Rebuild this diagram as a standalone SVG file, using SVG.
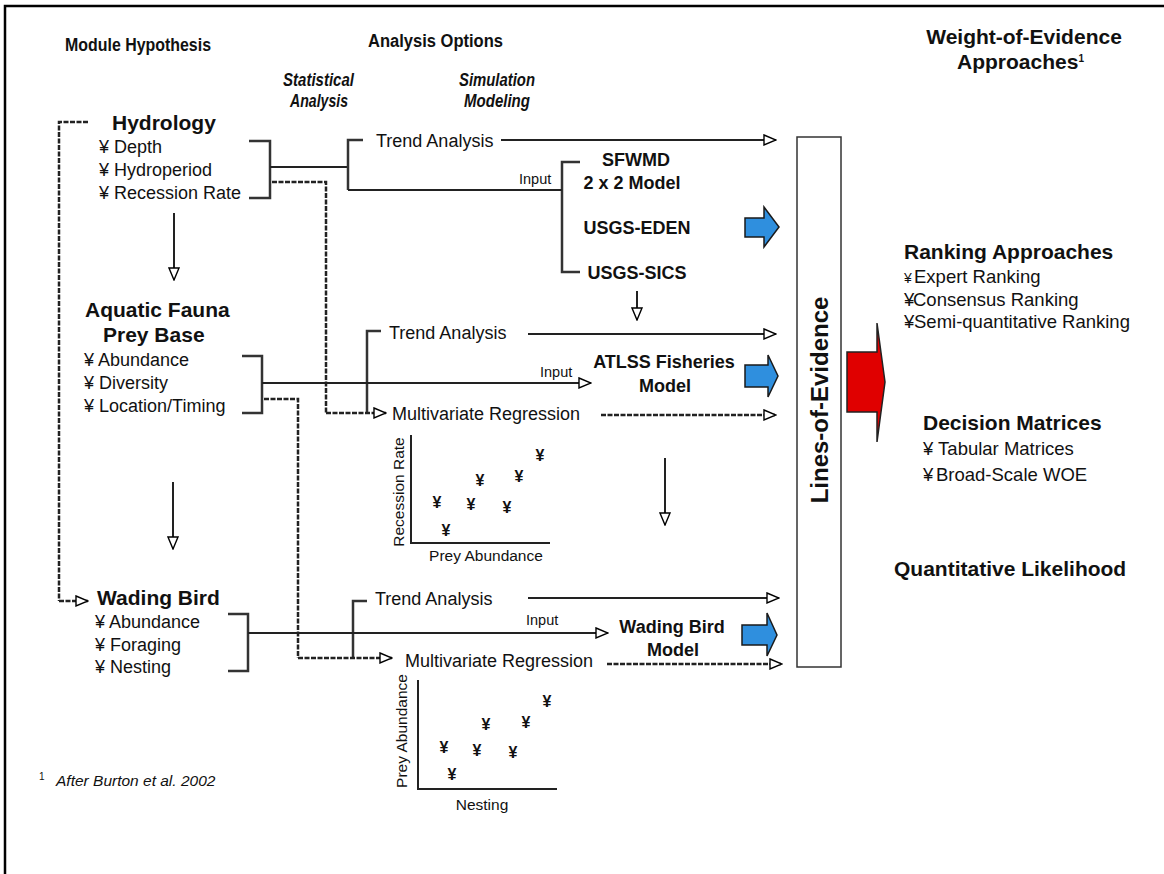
<svg xmlns="http://www.w3.org/2000/svg" width="1164" height="874" viewBox="0 0 1164 874">
<style>
text{font-family:"Liberation Sans",Arial,sans-serif;fill:#111}
.h{font-weight:bold;font-size:18px}
.hi{font-weight:bold;font-style:italic;font-size:18px}
.node{font-weight:bold;font-size:21px}
.li{font-size:18px}
.m{font-weight:bold;font-size:18px}
.sm{font-size:14.5px}
.ax{font-size:15.5px}
.yen{font-weight:bold;font-size:16px;text-anchor:middle}
.r{font-size:18.5px}
.s{fill:none;stroke:#222;stroke-width:2}
.b{fill:none;stroke:#333;stroke-width:2.5}
.d{fill:none;stroke:#222;stroke-width:2.5;stroke-dasharray:5 1.5}
.a{marker-end:url(#hollow)}
.blue{fill:#2f8fde;stroke:#1a1a1a;stroke-width:1.5}
</style>
<defs>
<marker id="hollow" viewBox="0 0 14 12" refX="13" refY="6" markerWidth="14" markerHeight="12" markerUnits="userSpaceOnUse" orient="auto">
<path d="M1,1 L13,6 L1,11 Z" fill="#fff" stroke="#000" stroke-width="1.4"/>
</marker>
</defs>
<rect width="1164" height="874" fill="#fff"/>
<path d="M5,874 V6 H1164" fill="none" stroke="#000" stroke-width="2.5"/>

<g id="headers">
<text class="h" x="65" y="51" textLength="146" lengthAdjust="spacingAndGlyphs">Module Hypothesis</text>
<text class="h" x="368" y="47" textLength="135" lengthAdjust="spacingAndGlyphs">Analysis Options</text>
<text class="hi" x="283" y="86" textLength="71" lengthAdjust="spacingAndGlyphs">Statistical</text>
<text class="hi" x="290" y="107" textLength="58" lengthAdjust="spacingAndGlyphs">Analysis</text>
<text class="hi" x="459" y="86" textLength="76" lengthAdjust="spacingAndGlyphs">Simulation</text>
<text class="hi" x="464" y="107" textLength="66" lengthAdjust="spacingAndGlyphs">Modeling</text>
<text class="node" x="1024" y="44" text-anchor="middle">Weight-of-Evidence</text>
<text class="node" x="957" y="69">Approaches<tspan font-size="10" dy="-7">1</tspan></text>
</g>

<g id="hydrology">
<text class="node" x="112" y="130">Hydrology</text>
<text class="li" x="99" y="153">¥ Depth</text>
<text class="li" x="99" y="176">¥ Hydroperiod</text>
<text class="li" x="99" y="199">¥ Recession Rate</text>
</g>
<g id="aquatic-fauna">
<text class="node" x="85" y="317">Aquatic Fauna</text>
<text class="node" x="103" y="342">Prey Base</text>
<text class="li" x="84" y="366">¥ Abundance</text>
<text class="li" x="84" y="389">¥ Diversity</text>
<text class="li" x="84" y="412">¥ Location/Timing</text>
</g>
<g id="wading-bird">
<text class="node" x="97" y="605">Wading Bird</text>
<text class="li" x="95" y="628">¥ Abundance</text>
<text class="li" x="95" y="651">¥ Foraging</text>
<text class="li" x="95" y="673">¥ Nesting</text>
</g>

<g id="statistical">
<text class="li" x="376" y="147">Trend Analysis</text>
<text class="li" x="389" y="339">Trend Analysis</text>
<text class="li" x="392" y="420">Multivariate Regression</text>
<text class="li" x="375" y="605">Trend Analysis</text>
<text class="li" x="405" y="667">Multivariate Regression</text>
</g>

<g id="models">
<text class="m" x="636" y="166" text-anchor="middle">SFWMD</text>
<text class="m" x="632" y="189" text-anchor="middle">2 x 2 Model</text>
<text class="m" x="637" y="234" text-anchor="middle">USGS-EDEN</text>
<text class="m" x="637" y="279" text-anchor="middle">USGS-SICS</text>
<text class="m" x="664" y="368" text-anchor="middle">ATLSS Fisheries</text>
<text class="m" x="665" y="392" text-anchor="middle">Model</text>
<text class="m" x="672" y="633" text-anchor="middle">Wading Bird</text>
<text class="m" x="673" y="656" text-anchor="middle">Model</text>
<polygon class="blue" points="745,218 764,218 764,207 779,227 764,247 764,237 745,237"/>
<polygon class="blue" points="745,365 768,365 768,355 778,376 768,397 768,387 745,387"/>
<polygon class="blue" points="742,625 767,625 767,613 777,635 767,656 767,645 742,645"/>
</g>

<g id="plot-recession">
<path class="s" d="M411,435 V543 H550"/>
<text class="ax" transform="translate(404,492) rotate(-90)" text-anchor="middle">Recession Rate</text>
<text class="ax" x="486" y="561" text-anchor="middle">Prey Abundance</text>
<text class="yen" x="437" y="508">¥</text>
<text class="yen" x="446" y="536">¥</text>
<text class="yen" x="471" y="510">¥</text>
<text class="yen" x="480" y="486">¥</text>
<text class="yen" x="507" y="513">¥</text>
<text class="yen" x="519" y="482">¥</text>
<text class="yen" x="540" y="461">¥</text>
</g>
<g id="plot-nesting">
<path class="s" d="M418,680 V789 H557"/>
<text class="ax" transform="translate(407,731) rotate(-90)" text-anchor="middle">Prey Abundance</text>
<text class="ax" x="482" y="810" text-anchor="middle">Nesting</text>
<text class="yen" x="444" y="753">¥</text>
<text class="yen" x="452" y="780">¥</text>
<text class="yen" x="477" y="756">¥</text>
<text class="yen" x="486" y="730">¥</text>
<text class="yen" x="513" y="758">¥</text>
<text class="yen" x="526" y="728">¥</text>
<text class="yen" x="547" y="707">¥</text>
</g>

<g id="lines-of-evidence">
<rect x="797" y="137" width="44" height="530" fill="#fff" stroke="#333" stroke-width="1.5"/>
<text transform="translate(828,400) rotate(-90)" text-anchor="middle" font-weight="bold" font-size="24">Lines-of-Evidence</text>
<polygon points="847,352 877,352 877,323 885,382 877,442 877,412 847,412" fill="#e00000" stroke="#222" stroke-width="1.5"/>
</g>

<g id="woe-approaches">
<text class="node" x="904" y="259">Ranking Approaches</text>
<text class="r" x="904" y="283"><tspan font-size="14">¥</tspan><tspan x="914">Expert Ranking</tspan></text>
<text class="r" x="904" y="306">¥<tspan x="913">Consensus Ranking</tspan></text>
<text class="r" x="904" y="328">¥<tspan x="914">Semi-quantitative Ranking</tspan></text>
<text class="node" x="923" y="430">Decision Matrices</text>
<text class="r" x="923" y="455">¥ Tabular Matrices</text>
<text class="r" x="923" y="481">¥<tspan x="936">Broad-Scale WOE</tspan></text>
<text class="node" x="894" y="576">Quantitative Likelihood</text>
</g>

<g id="footnote">
<text x="39" y="780" font-size="10">1</text>
<text x="56" y="786" font-size="15.5" font-style="italic">After Burton et al. 2002</text>
</g>

<g id="connectors">
<path class="b" d="M249,141 H270 V198 H249"/>
<path class="b" d="M242,356 H262 V413 H242"/>
<path class="b" d="M228,614 H248 V671 H228"/>
<path class="b" d="M580,162 H562 V272 H580"/>
<path class="s" d="M270,167 H348"/>
<path class="b" d="M363,140 H348 V190"/>
<path class="s" d="M348,190 H562"/>
<text class="sm" x="519" y="184">Input</text>
<path class="s a" d="M501,140 H776"/>
<path class="b" d="M381,331 H367 V413"/>
<path class="s a" d="M262,383 H591"/>
<text class="sm" x="540" y="377">Input</text>
<path class="s a" d="M528,334 H776"/>
<path class="d a" d="M601,415 H776"/>
<path class="b" d="M367,601 H353 V658"/>
<path class="s a" d="M248,633 H608"/>
<text class="sm" x="526" y="625">Input</text>
<path class="s a" d="M528,598 H779"/>
<path class="d a" d="M607,664 H782"/>
<path class="d" d="M88,122 H59 V601"/>
<path class="d a" d="M59,601 H88"/>
<path class="d" d="M272,182 H326 V413"/>
<path class="d a" d="M326,413 H386"/>
<path class="d" d="M264,399 H298 V658"/>
<path class="d a" d="M298,658 H392"/>
<path class="s a" d="M174,213 V280"/>
<path class="s a" d="M173,482 V549"/>
<path class="s a" d="M637,291 V320"/>
<path class="s a" d="M665,458 V525"/>
</g>
</svg>
